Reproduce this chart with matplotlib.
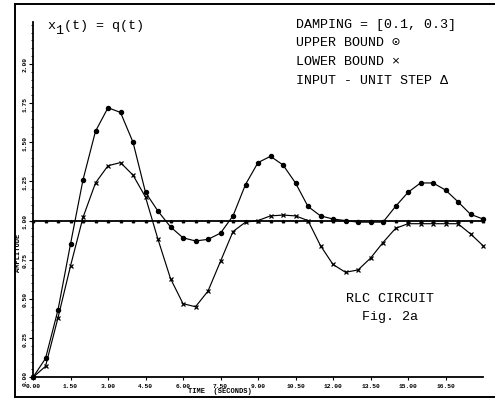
import numpy as np
import matplotlib.pyplot as plt
from matplotlib.lines import Line2D
from matplotlib.ticker import MultipleLocator, FormatStrFormatter

# values, one sample every 0.5 s
time = [0.0, 0.5, 1.0, 1.5, 2.0, 2.5, 3.0, 3.5, 4.0, 4.5,
        5.0, 5.5, 6.0, 6.5, 7.0, 7.5, 8.0, 8.5, 9.0, 9.5,
        10.0, 10.5, 11.0, 11.5, 12.0, 12.5, 13.0, 13.5, 14.0, 14.5,
        15.0, 15.5, 16.0, 16.5, 17.0, 17.5, 18.0]
upper = [0.00, 0.12, 0.43, 0.85, 1.26, 1.57, 1.72, 1.69, 1.50, 1.18,
         1.06, 0.96, 0.89, 0.87, 0.88, 0.92, 1.03, 1.23, 1.37, 1.41,
         1.355, 1.24, 1.09, 1.03, 1.01, 1.00, 0.99, 0.99, 0.99, 1.09,
         1.18, 1.24, 1.24, 1.195, 1.12, 1.04, 1.01]
lower = [0.00, 0.07, 0.38, 0.71, 1.02, 1.24, 1.35, 1.37, 1.29, 1.15,
         0.88, 0.63, 0.47, 0.45, 0.55, 0.74, 0.93, 0.99, 1.00, 1.03,
         1.035, 1.03, 1.00, 0.84, 0.72, 0.67, 0.685, 0.76, 0.86, 0.95,
         0.98, 0.98, 0.98, 0.98, 0.98, 0.915, 0.84]
step_input = [1.0] * len(time)

x_ticks = [0.0, 1.5, 3.0, 4.5, 6.0, 7.5, 9.0, 10.5, 12.0, 13.5, 15.0, 16.5]
y_ticks = [0.0, 0.25, 0.5, 0.75, 1.0, 1.25, 1.5, 1.75, 2.0]

W, H = 495, 402
mono = ['Liberation Mono', 'DejaVu Sans Mono', 'DejaVu Sans']


def px(x, y):
    # pixel position in the picture -> figure fraction
    return x / W, 1 - y / H


fig = plt.figure(figsize=(W / 100, H / 100), dpi=100)
fig.patch.set_facecolor('white')

# plotting area: left spine at x=33, x axis at y=378
ax = fig.add_axes([33 / W, (H - 378.3) / H, (483 - 33) / W, 355.3 / H])
ax.set_xlim(0, 18)
ax.set_ylim(0, 2.267)

ax.plot(time, step_input, color='black', lw=1.3, marker='^', ms=1.8, clip_on=False)
ax.plot(time, lower, color='black', lw=0.85, marker='x', ms=2.6, mew=0.9, clip_on=False)
ax.plot(time, upper, color='black', lw=0.85, marker='o', ms=2.9, clip_on=False)

for s in ['top', 'right']:
    ax.spines[s].set_visible(False)
for s in ['left', 'bottom']:
    ax.spines[s].set_linewidth(1.3)

ax.set_xticks(x_ticks)
ax.set_yticks(y_ticks)
ax.xaxis.set_major_formatter(FormatStrFormatter('%.2f'))
ax.yaxis.set_major_formatter(FormatStrFormatter('%.2f'))
ax.yaxis.set_minor_locator(MultipleLocator(0.05))
ax.tick_params(axis='x', length=2, width=0.8, pad=2, labelsize=4.5)
ax.tick_params(axis='y', which='major', length=3, width=0.8, pad=1, labelsize=4.5,
               labelrotation=90)
ax.tick_params(axis='y', which='minor', length=1.2, width=0.6)
for lab in ax.get_xticklabels() + ax.get_yticklabels():
    lab.set_fontweight('bold')
    lab.set_family(mono)
for lab in ax.get_yticklabels():
    lab.set_va('center')

# axis titles, placed where the scan has them
fig.text(*px(188, 392), 'TIME  (SECONDS)', fontsize=5, fontweight='bold',
         family=mono, va='center', ha='left')
fig.text(*px(19, 253), 'AMPLITUDE', fontsize=5, fontweight='bold', family=mono,
         rotation=90, va='center', ha='center')

# annotations
fs = 9.6
fig.text(*px(47, 29), 'x', fontsize=fs, family=mono, va='baseline')
fig.text(*px(55, 34), '1', fontsize=fs, family=mono, va='baseline')
fig.text(*px(64, 29), '(t) = q(t)', fontsize=fs, family=mono, va='baseline')

notes = ['DAMPING = [0.1, 0.3]', 'UPPER BOUND \u2299', 'LOWER BOUND \u00d7',
         'INPUT - UNIT STEP \u0394']
for i, line in enumerate(notes):
    fig.text(*px(296, 28 + i * 18.5), line, fontsize=fs, family=mono, va='baseline')

fig.text(*px(390, 302), 'RLC CIRCUIT', fontsize=fs, family=mono, va='baseline',
         ha='center')
fig.text(*px(390, 320), 'Fig. 2a', fontsize=fs, family=mono, va='baseline',
         ha='center')

# outer frame of the scanned page (no right side)
for xs, ys in [((15, 15), (5, 398)), ((15, 495), (5, 5)), ((15, 495), (398, 398))]:
    p0 = px(xs[0], ys[0])
    p1 = px(xs[1], ys[1])
    fig.add_artist(Line2D([p0[0], p1[0]], [p0[1], p1[1]], transform=fig.transFigure,
                          color='black', lw=1.4))

fig.savefig('out.png', dpi=100)
